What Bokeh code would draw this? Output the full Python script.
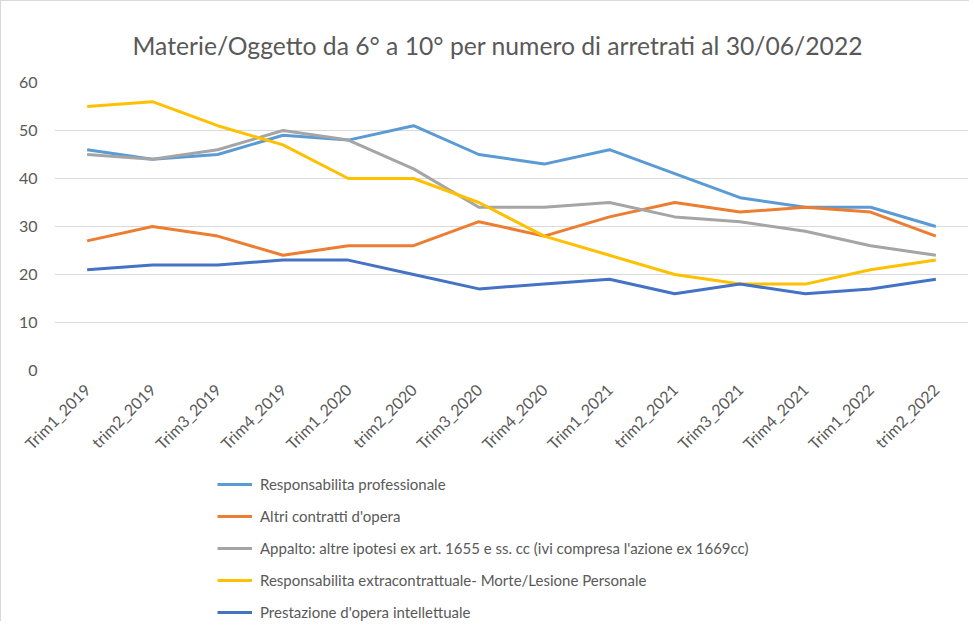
import math
from bokeh.plotting import figure
from bokeh.layouts import column
from bokeh.models import FactorRange, Range1d, Legend, LegendItem, FixedTicker
from bokeh.embed import file_html
from bokeh.resources import INLINE

categories = ["Trim1_2019", "trim2_2019", "Trim3_2019", "Trim4_2019",
              "Trim1_2020", "trim2_2020", "Trim3_2020", "Trim4_2020",
              "Trim1_2021", "trim2_2021", "Trim3_2021", "Trim4_2021",
              "Trim1_2022", "trim2_2022"]

resp_professionale = [46, 44, 45, 49, 48, 51, 45, 43, 46, 41, 36, 34, 34, 30]
altri_contratti = [27, 30, 28, 24, 26, 26, 31, 28, 32, 35, 33, 34, 33, 28]
appalto = [45, 44, 46, 50, 48, 42, 34, 34, 35, 32, 31, 29, 26, 24]
resp_extracontrattuale = [55, 56, 51, 47, 40, 40, 35, 28, 24, 20, 18, 18, 21, 23]
prestazione_intellettuale = [21, 22, 22, 23, 23, 20, 17, 18, 19, 16, 18, 16, 17, 19]

series_names = [
    "Responsabilita professionale",
    "Altri contratti d'opera",
    "Appalto: altre ipotesi ex art. 1655 e ss. cc (ivi compresa l'azione ex 1669cc)",
    "Responsabilita extracontrattuale- Morte/Lesione Personale",
    "Prestazione d'opera intellettuale",
]
series_values = [resp_professionale, altri_contratti, appalto,
                 resp_extracontrattuale, prestazione_intellettuale]
series_colors = ["#5B9BD5", "#ED7D31", "#A5A5A5", "#FFC000", "#4472C4"]

y_ticks = [0, 10, 20, 30, 40, 50, 60]

FONT = "Lato"
TXT = "#595959"

# ---- main chart ----
p = figure(
    width=968, height=474,
    x_range=FactorRange(*categories, range_padding=0),
    y_range=Range1d(0, 60),
    output_backend="svg", toolbar_location=None,
    min_border_left=53, min_border_right=1, min_border_top=81,
    min_border_bottom=105,
    frame_width=914, frame_height=288,
)
p.outline_line_color = None
p.background_fill_color = "white"
p.border_fill_color = "white"

p.title.text = "Materie/Oggetto da 6° a 10° per numero di arretrati al 30/06/2022"
p.title.align = "left"
p.title.text_font = FONT
p.title.text_font_size = "24.7px"
p.title.text_font_style = "normal"
p.title.text_color = TXT
p.title.offset = 78
p.title.standoff = 46

p.xgrid.grid_line_color = None
p.ygrid.grid_line_color = "#D9D9D9"
p.ygrid.grid_line_width = 1
p.yaxis.ticker = FixedTicker(ticks=y_ticks)

for ax in (p.xaxis[0], p.yaxis[0]):
    ax.axis_line_color = None
    ax.major_tick_line_color = None
    ax.minor_tick_line_color = None
    ax.major_label_text_font = FONT
    ax.major_label_text_color = TXT
    ax.major_label_text_font_size = "16px"

p.yaxis.major_label_standoff = 11
p.xaxis.major_label_orientation = math.pi / 4
p.xaxis.major_label_standoff = 10

for name, vals, col in zip(series_names, series_values, series_colors):
    p.line(categories, vals, line_color=col, line_width=3, line_join="round")

# ---- legend strip (same series, drawn out of view; only the legend shows) ----
lg = figure(
    width=968, height=146,
    x_range=FactorRange(*categories, range_padding=0),
    y_range=Range1d(1000, 1001),
    output_backend="svg", toolbar_location=None,
    min_border_left=0, min_border_right=0, min_border_top=0, min_border_bottom=0,
    x_axis_location=None, y_axis_location=None,
)
lg.outline_line_color = None
lg.xgrid.grid_line_color = None
lg.ygrid.grid_line_color = None
lg.background_fill_color = "white"
lg.border_fill_color = "white"

items = []
for name, vals, col in zip(series_names, series_values, series_colors):
    r = lg.line(categories, vals, line_color=col, line_width=3)
    items.append(LegendItem(label=name, renderers=[r]))

legend = Legend(
    items=items, location=(163, 0), orientation="vertical",
    border_line_alpha=0, background_fill_alpha=0,
    padding=0, margin=0, spacing=14,
    glyph_height=16, glyph_width=35, label_height=16, label_standoff=8,
    label_text_font=FONT, label_text_font_size="15px", label_text_color=TXT,
)
lg.add_layout(legend)

page = column(p, lg, spacing=0,
              styles={"border-top": "1px solid #d9d9d9", "border-left": "1px solid #d9d9d9"})

open("out.html", "w").write(file_html(page, INLINE))
